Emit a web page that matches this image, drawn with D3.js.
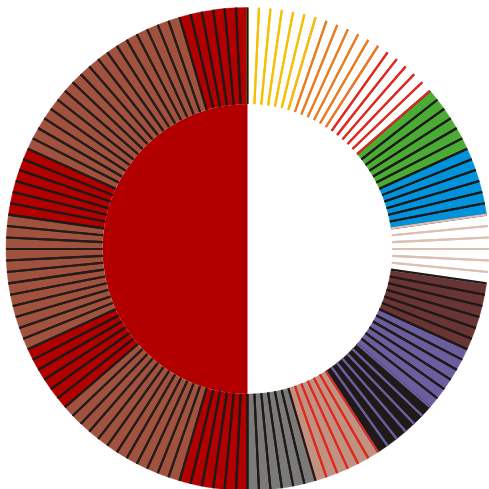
<!DOCTYPE html>
<html>
<head>
<meta charset="utf-8">
<script src="https://cdn.jsdelivr.net/npm/d3@7"></script>
<style>
html,body{margin:0;padding:0;background:#ffffff;overflow:hidden}
svg{display:block}
</style>
</head>
<body>
<svg id="chart" width="489" height="489"></svg>
<script>
// ---- data ----
const groupNames = [
  "Yellow","Orange","Red","Green","Blue","Blush","Maroon","Violet","Black","Tan","Grey",
  "Crimson 1","Brown 1","Brown 2","Crimson 2","Brown 3","Brown 4","Crimson 3","Brown 5","Brown 6","Brown 7","Crimson 4"
];
const sliceValues = [
  [1,1,1,1,1,1],[1,1,1,1,1,1],[1,1,1,1,1,1],[1,1,1,1,1,1],[1,1,1,1,1,1],[1,1,1,1,1,1],
  [1,1,1,1,1,1],[1,1,1,1,1,1],[1,1,1,1,1,1],[1,1,1,1,1,1],[1,1,1,1,1,1],
  [1,1,1,1,1,1],[1,1,1,1,1,1],[1,1,1,1,1,1],[1,1,1,1,1,1],[1,1,1,1,1,1],
  [1,1,1,1,1,1],[1,1,1,1,1,1],[1,1,1,1,1,1],[1,1,1,1,1,1],[1,1,1,1,1,1],[1,1,1,1,1,1]
];
const innerCategories = ["Right","Left"];
const innerValues = [1,1];

// ---- styles ----
const DARKRED = "#b20000", BROWN = "#a1523f", INK = "#1f1a17";
const fillOf = {
  "Yellow":"#ffffff","Orange":"#ffffff","Red":"#ffffff","Green":"#4aab35","Blue":"#0093dc",
  "Blush":"#ffffff","Maroon":"#693434","Violet":"#6b5e9f","Black":"#1f1a17","Tan":"#c09281","Grey":"#7a7a79"
};
const strokeOf = {
  "Yellow":"#f6c000","Orange":"#ea7c1f","Red":"#e0281e","Green":INK,"Blue":INK,
  "Blush":"#dcc1b3","Maroon":INK,"Violet":INK,"Black":"#6b5e9f","Tan":"#e0281e","Grey":INK
};
groupNames.forEach(g => {
  if (g.startsWith("Crimson")) { fillOf[g] = DARKRED; strokeOf[g] = INK; }
  if (g.startsWith("Brown")) { fillOf[g] = BROWN; strokeOf[g] = "#241c19"; }
});
const innerFill = {"Right":"#ffffff","Left":DARKRED};

// ---- layout ----
const cx = 247.5, cy = 249, rIn = 145, rOut = 241.5;
const svg = d3.select("#chart");
const g = svg.append("g").attr("transform", `translate(${cx},${cy})`);

// inner pie
const innerData = innerCategories.map((c,i)=>({cat:c, value:innerValues[i]}));
const innerPie = d3.pie().sort(null).value(d=>d.value).startAngle(0).endAngle(2*Math.PI);
const innerArc = d3.arc().innerRadius(0).outerRadius(rIn);
g.selectAll("path.inner").data(innerPie(innerData)).join("path")
  .attr("class","inner").attr("d", innerArc)
  .attr("fill", d=>innerFill[d.data.cat]);

// outer ring
const items = groupNames.flatMap((name,gi)=>sliceValues[gi].map((v,k)=>({group:name, gi, k, value:v})));
const pie = d3.pie().sort(null).value(d=>d.value).startAngle(0).endAngle(2*Math.PI);
const arcs = pie(items);
const arc = d3.arc().innerRadius(rIn).outerRadius(rOut);

g.selectAll("path.slice").data(arcs).join("path")
  .attr("class","slice").attr("d", arc)
  .attr("fill", d=>fillOf[d.data.group])
  .attr("stroke", d=>fillOf[d.data.group]).attr("stroke-width", 0.4);

// radial edges, drawn in layering order
const groupOrder = [3,2,1,0].concat(d3.range(4, groupNames.length));
const rank = new Map(groupOrder.map((gi,i)=>[gi,i]));
const ordered = arcs.slice().sort((a,b)=> (rank.get(a.data.gi)-rank.get(b.data.gi)) || (a.index-b.index));
const edges = ordered.flatMap(d=>[
  {a:d.startAngle, c:strokeOf[d.data.group]},
  {a:d.endAngle, c:strokeOf[d.data.group]}
]);
g.selectAll("line.edge").data(edges).join("line")
  .attr("class","edge")
  .attr("x1", d=>d3.pointRadial(d.a, rIn)[0])
  .attr("y1", d=>d3.pointRadial(d.a, rIn)[1])
  .attr("x2", d=>d3.pointRadial(d.a, rOut)[0])
  .attr("y2", d=>d3.pointRadial(d.a, rOut)[1])
  .attr("stroke", d=>d.c).attr("stroke-width", 2.1);
</script>
</body>
</html>
